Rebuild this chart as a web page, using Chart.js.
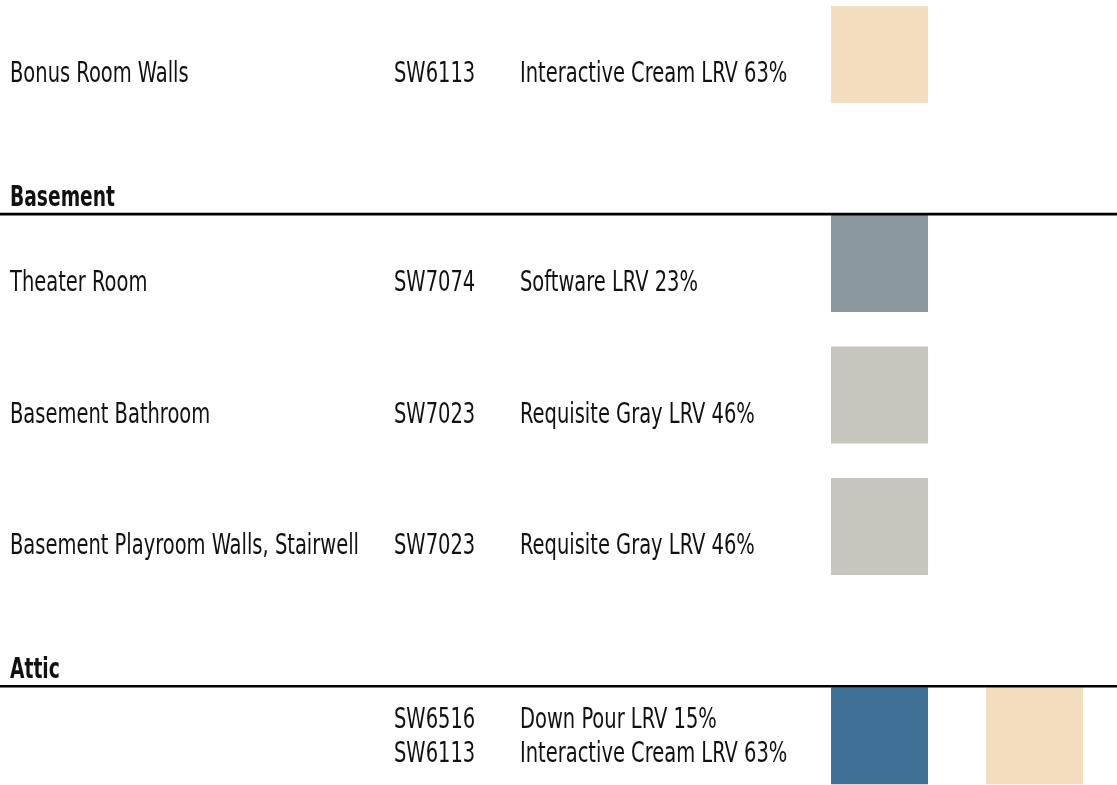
<!DOCTYPE html>
<html>
<head>
<meta charset="utf-8">
<script src="https://cdn.jsdelivr.net/npm/chart.js@4"></script>
<style>
  body { margin: 0; background: #fff; }
  #wrap { width: 1117px; height: 785px; }
</style>
</head>
<body>
<div id="wrap"><canvas id="paintChart" width="1117" height="785"></canvas></div>
<script>
// rooms (one row each) and the section heading each row belongs to
const rooms = ['Bonus Room Walls', 'Theater Room', 'Basement Bathroom', 'Basement Playroom Walls, Stairwell', ''];
const roomSections = ['', 'Basement', 'Basement', 'Basement', 'Attic'];

// paints, one entry per swatch
const paintRoom = [0, 1, 2, 3, 4, 4];
const paintCodes = ['SW6113', 'SW7074', 'SW7023', 'SW7023', 'SW6516', 'SW6113'];
const paintNames = ['Interactive Cream', 'Software', 'Requisite Gray', 'Requisite Gray', 'Down Pour', 'Interactive Cream'];
const paintLrv = [63, 23, 46, 46, 15, 63];
const swatchColors = ['#f3dfc0', '#8a979c', '#c8c4be', '#c8c4be', '#3e7195', '#f3dfc0'];

const headerGap = 0.59;
const fontFamily = "'Liberation Sans Narrow', 'DejaVu Sans Condensed', 'Liberation Sans', sans-serif";

// row positions on the y scale, with extra room for each new section heading
let roomY = [];
let pos = 0;
rooms.forEach(function (r, i) {
    if (i > 0) {
        pos += 1;
        if (roomSections[i] && roomSections[i] !== roomSections[i - 1]) pos += headerGap;
    }
    roomY.push(pos);
});

let colInRow = [];
paintRoom.forEach(function (r, i) {
    colInRow.push(paintRoom.slice(0, i).filter(function (v) { return v === r; }).length);
});

let swatchData = paintRoom.map(function (r, i) {
    return { x: colInRow[i], y: roomY[r] };
});

// squeeze text horizontally so it looks like the condensed face in the original
function fitScale(ctx, font, text, target) {
    ctx.font = font;
    return target / ctx.measureText(text).width;
}

let tablePlugin = {
    id: 'tableText',
    afterDatasetsDraw: function (chart) {
        let ctx = chart.ctx;
        let yScale = chart.scales.y;
        let regFont = '28px ' + fontFamily;
        let boldFont = 'bold 28px ' + fontFamily;
        let sx = fitScale(ctx, regFont, 'Basement Playroom Walls, Stairwell', 349);
        let sxBold = fitScale(ctx, boldFont, 'Basement', 105);
        let half = 48.5;

        ctx.save();
        ctx.fillStyle = '#111';
        ctx.textBaseline = 'alphabetic';
        ctx.textAlign = 'left';

        rooms.forEach(function (room, i) {
            let cy = yScale.getPixelForValue(roomY[i]);

            // section heading + rule
            if (roomSections[i] && roomSections[i] !== roomSections[i - 1]) {
                let lineY = cy - half - 1;
                ctx.save();
                ctx.strokeStyle = '#000';
                ctx.lineWidth = 2.6;
                ctx.beginPath();
                ctx.moveTo(0, lineY);
                ctx.lineTo(chart.width, lineY);
                ctx.stroke();
                ctx.font = boldFont;
                ctx.translate(10, lineY - 8);
                ctx.scale(sxBold, 1);
                ctx.fillText(roomSections[i], 0, 0);
                ctx.restore();
            }

            let paints = [];
            paintRoom.forEach(function (r, k) { if (r === i) paints.push(k); });
            let baseOffset = paints.length === 1 ? 27.5 : -7.5;

            ctx.font = regFont;
            if (room) {
                ctx.save();
                ctx.translate(10, cy + baseOffset);
                ctx.scale(sx, 1);
                ctx.fillText(room, 0, 0);
                ctx.restore();
            }
            paints.forEach(function (k, n) {
                let by = cy + baseOffset + n * 34;
                ctx.save();
                ctx.translate(394, by);
                ctx.scale(sx, 1);
                ctx.fillText(paintCodes[k], 0, 0);
                ctx.restore();
                ctx.save();
                ctx.translate(520, by);
                ctx.scale(sx, 1);
                ctx.fillText(paintNames[k] + ' LRV ' + paintLrv[k] + '%', 0, 0);
                ctx.restore();
            });
        });
        ctx.restore();
    }
};

window.onload = function () {
    let ctx = document.getElementById('paintChart').getContext('2d');
    window.paintChart = new Chart(ctx, {
        type: 'scatter',
        data: {
            datasets: [{
                data: swatchData,
                pointStyle: 'rect',
                pointRadius: 68.6,
                pointHoverRadius: 68.6,
                pointBorderWidth: 0,
                pointBackgroundColor: swatchColors,
                pointBorderColor: swatchColors,
                clip: false
            }]
        },
        options: {
            responsive: false,
            animation: false,
            events: [],
            layout: { padding: 0, autoPadding: false },
            plugins: {
                legend: { display: false },
                tooltip: { enabled: false }
            },
            scales: {
                x: { type: 'linear', display: false, min: -5.674, max: 1.532 },
                y: { type: 'linear', display: false, reverse: true, min: -0.4144, max: 5.555 }
            }
        },
        plugins: [tablePlugin]
    });
};
</script>
</body>
</html>
